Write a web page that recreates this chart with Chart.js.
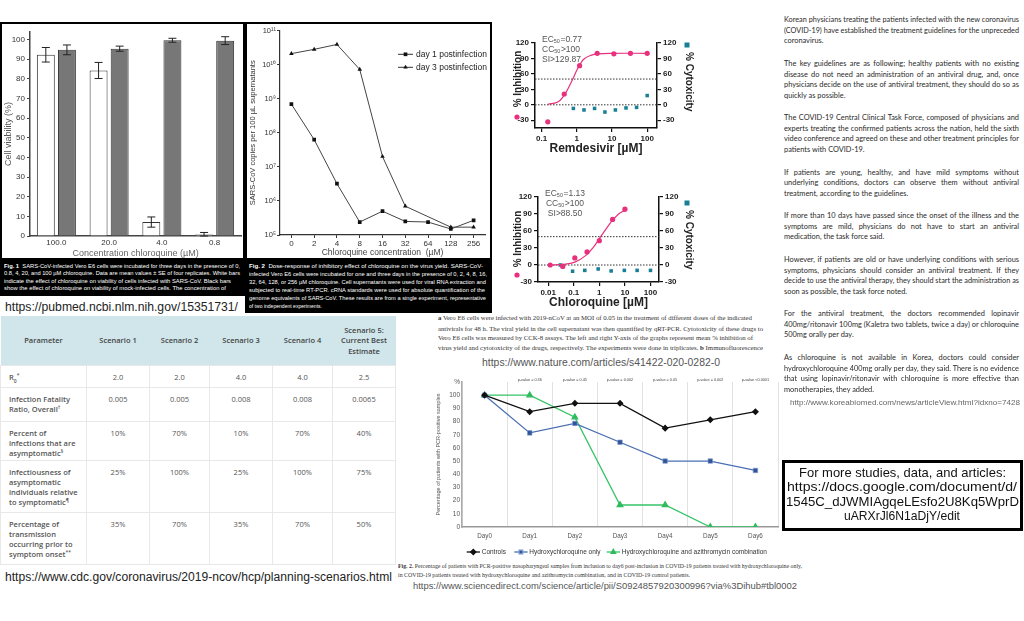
<!DOCTYPE html>
<html>
<head>
<meta charset="utf-8">
<script src="https://cdn.jsdelivr.net/npm/chart.js@4.4.1/dist/chart.umd.min.js"></script>
<style>
body{margin:0;width:1024px;height:621px;position:relative;overflow:hidden;background:#fff;font-family:'Liberation Sans',Arial,sans-serif;}
.box{position:absolute;box-sizing:border-box;border:2.5px solid #000;background:#fff;}
.band{position:absolute;background:#000;}
.ln{position:absolute;white-space:nowrap;}
.wrap{position:absolute;}
#cdc{position:absolute;left:0;top:316px;width:395px;border-collapse:collapse;table-layout:fixed;font-family:'Open Sans',sans-serif;font-size:7.5px;color:#555;}
#cdc th{background:#d0e6eb;font-weight:600;color:#444;height:49px;padding:0;text-align:center;vertical-align:middle;line-height:10.5px;font-size:7.5px;}
#cdc td{border:1px solid #e8e8e8;vertical-align:top;padding:6px 0 0 0;line-height:10px;text-align:center;white-space:nowrap;font-size:7.5px;}
#cdc td.p{text-align:left;padding-left:8px;font-weight:600;}
#cdc sup{font-size:5px;line-height:0;}
#cdc sub{font-size:5px;line-height:0;}
#linkbox{position:absolute;left:782px;top:460px;width:241px;height:71px;box-sizing:border-box;border:3px solid #000;}
</style>
</head>
<body>
<div class="box" style="left:0;top:22px;width:245px;height:274px;"></div>
<div class="band" style="left:0;top:258px;width:245px;height:38px;"></div>
<div class="box" style="left:245px;top:22px;width:247px;height:291px;"></div>
<div class="band" style="left:245px;top:258px;width:247px;height:55px;"></div>
<div class="wrap" style="left:3px;top:25px;width:239px;height:235px;"><canvas id="fig1" width="239" height="235"></canvas></div>
<div class="wrap" style="left:248px;top:25px;width:241px;height:233px;"><canvas id="fig2" width="241" height="233"></canvas></div>
<div class="wrap" style="left:492px;top:24px;width:205px;height:134px;"><canvas id="rem" width="205" height="134"></canvas></div>
<div class="wrap" style="left:492px;top:182px;width:205px;height:130px;"><canvas id="cq" width="205" height="130"></canvas></div>
<div class="wrap" style="left:420px;top:372px;width:380px;height:188px;"><canvas id="pcr" width="380" height="188"></canvas></div>
<div id="linkbox"></div>
<script>
// ---- Fig 1: cell viability bars
const fig1Concentrations = ['100.0', '20.0', '4.0', '0.8'];
const fig1Infected = [92.3, 84.3, 7.1, 0.8];
const fig1InfectedSE = [3.7, 4.1, 2.6, 1.0];
const fig1Mock = [94.8, 95.4, 99.7, 99.5];
const fig1MockSE = [2.5, 1.3, 1.0, 2.0];
const fig1YTicks = [0, 10, 20, 30, 40, 50, 60, 70, 80, 90, 100];

// ---- Fig 2: virus yield (log)
const fig2Concentrations = ['0', '2', '4', '8', '16', '32', '64', '128', '256'];
const fig2Day1 = [6.9e8, 6.3e7, 3.2e6, 2.4e5, 5.0e5, 2.5e5, 2.4e5, 1.5e5, 2.7e5];
const fig2Day3 = [2.1e10, 2.8e10, 3.9e10, 7.2e9, 2.0e7, 7.0e5, null, 1.7e5, 1.7e5];
const fig2YTicks = [1e5, 1e6, 1e7, 1e8, 1e9, 1e10, 1e11];

// ---- Remdesivir
const remInhibConc = [0.15, 0.44, 1.2, 3.8, 11.3, 33.5, 100];
const remInhib = [-33, 21, 76, 100, 99, 100, 100];
const remCytoConc = [0.8, 1.6, 3.2, 6.3, 12.5, 25, 50, 100];
const remCyto = [-7, -10, -7, -14, -10, -6, -5, 18];
const remFitConc = [0.15, 0.3, 0.44, 0.6, 0.77, 1.0, 1.2, 1.6, 2.5, 4, 10, 100];
const remFit = [1, 6, 19, 35, 50, 67, 77, 89, 96, 99, 100, 100];
const remStats = [['EC', '50', '=0.77'], ['CC', '50', '>100'], ['SI', '', '>129.87']];

// ---- Chloroquine
const cqInhibConc = [0.012, 0.037, 0.11, 0.33, 1, 3.3, 10];
const cqInhib = [0, -2.5, 12.5, 23, 43, 80.5, 98.5];
const cqCytoConc = [0.03, 0.09, 0.27, 0.9, 2.9, 9.5, 30, 100];
const cqCyto = [0, -11, -9.5, -7, -10.5, -9.5, -9.5, -9.5];
const cqFitConc = [0.012, 0.037, 0.11, 0.3, 0.6, 1.13, 2, 3.3, 6, 10];
const cqFit = [0, 1, 5, 17, 32, 50, 66, 79, 91, 96];
const cqStats = [['EC', '50', '=1.13'], ['CC', '50', '>100'], ['SI', '', '>88.50']];

const doseYTicks = [-30, 0, 30, 60, 90, 120];
const remXTicks = [0.1, 1, 10, 100];
const cqXTicks = [0.01, 0.1, 1, 10, 100];

// ---- PCR positive patients
const days = ['Day0', 'Day1', 'Day2', 'Day3', 'Day4', 'Day5', 'Day6'];
const controls = [100, 87.5, 93.8, 93.8, 75, 81.3, 87.5];
const hcqOnly = [100, 71.4, 78.6, 64.3, 50, 50, 42.9];
const hcqAzi = [100, 100, 83.3, 16.7, 16.7, 0, 0];
const pValues = ['', 'p-value = 0.36', 'p-value = 0.45', 'p-value = 0.002', 'p-value = 0.05', 'p-value = 0.002', 'p-value <0.0001'];

// ---- CDC planning scenarios table
const tableHeader = ['Parameter', 'Scenario 1', 'Scenario 2', 'Scenario 3', 'Scenario 4', 'Scenario 5:<br>Current Best<br>Estimate'];
const tableParams = [
  'R<sub>0</sub><sup>*</sup>',
  'Infection Fatality<br>Ratio, Overall<sup>†</sup>',
  'Percent of<br>infections that are<br>asymptomatic<sup>§</sup>',
  'Infectiousness of<br>asymptomatic<br>individuals relative<br>to symptomatic<sup>¶</sup>',
  'Percentage of<br>transmission<br>occurring prior to<br>symptom onset<sup>**</sup>'
];
const scenario1 = ['2.0', '0.005', '10%', '25%', '35%'];
const scenario2 = ['2.0', '0.005', '70%', '100%', '70%'];
const scenario3 = ['4.0', '0.008', '10%', '25%', '35%'];
const scenario4 = ['4.0', '0.008', '70%', '100%', '70%'];
const scenario5 = ['2.5', '0.0065', '40%', '75%', '50%'];
const tableRowHeights = [22, 34, 39, 52, 52];

const PINK = '#e8307c';
const TEAL = '#177f96';
Chart.defaults.font.family = "'Liberation Sans', Arial, sans-serif";

const SUP = {'0':'⁰','1':'¹','2':'²','3':'³','4':'⁴','5':'⁵','6':'⁶','7':'⁷','8':'⁸','9':'⁹'};
const supText = n => String(n).split('').map(c => SUP[c]).join('');

// error bars on fig 1
const errorBars = {
  id: 'errorBars',
  afterDatasetsDraw(chart) {
    const {ctx, scales: {y}} = chart;
    ctx.save();
    ctx.strokeStyle = '#222';
    ctx.lineWidth = 1;
    chart.data.datasets.forEach((ds, i) => {
      chart.getDatasetMeta(i).data.forEach((bar, j) => {
        const top = y.getPixelForValue(ds.data[j] + ds.errors[j]);
        const bot = y.getPixelForValue(Math.max(0, ds.data[j] - ds.errors[j]));
        const x = bar.x, w = 4;
        ctx.beginPath();
        ctx.moveTo(x, top); ctx.lineTo(x, bot);
        ctx.moveTo(x - w, top); ctx.lineTo(x + w, top);
        ctx.moveTo(x - w, bot); ctx.lineTo(x + w, bot);
        ctx.stroke();
      });
    });
    ctx.restore();
  }
};

new Chart(document.getElementById('fig1'), {
  type: 'bar',
  data: {
    labels: fig1Concentrations,
    datasets: [
      {label: 'SARS-CoV-infected', data: fig1Infected, errors: fig1InfectedSE, backgroundColor: '#fff', borderColor: '#333', borderWidth: 1},
      {label: 'mock-infected', data: fig1Mock, errors: fig1MockSE, backgroundColor: '#777', borderColor: '#333', borderWidth: 1}
    ]
  },
  options: {
    responsive: false, animation: false,
    layout: {padding: {left: 0, top: 2, right: 1, bottom: 0}},
    plugins: {legend: {display: false}, tooltip: {enabled: false}},
    datasets: {bar: {categoryPercentage: 0.8, barPercentage: 0.85}},
    scales: {
      x: {
        grid: {display: false, drawTicks: false}, border: {color: '#444', width: 1.5},
        ticks: {color: '#333', font: {size: 8}, padding: 2},
        title: {display: true, text: 'Concentration chloroquine (µM)', color: '#666', font: {size: 9}, padding: {top: 0, bottom: 1}},
        afterFit: s => { s.height = 24; }
      },
      y: {
        min: 0, max: 104,
        afterBuildTicks: s => { s.ticks = fig1YTicks.map(v => ({value: v})); },
        grid: {drawOnChartArea: false, tickLength: 3, color: '#444'},
        border: {color: '#444', width: 1.5},
        ticks: {color: '#333', font: {size: 8}, padding: 2},
        title: {display: true, text: 'Cell viability (%)', color: '#555', font: {size: 9}, padding: 0},
        afterFit: s => { s.width = 27; }
      }
    }
  },
  plugins: [errorBars]
});

// legend inside fig 2
const fig2Legend = {
  id: 'fig2Legend',
  afterDraw(chart) {
    const ctx = chart.ctx;
    const items = [['day 1 postinfection', 'rect', 29.3], ['day 3 postinfection', 'triangle', 42.3]];
    ctx.save();
    items.forEach(([txt, style, y]) => {
      ctx.strokeStyle = '#333'; ctx.lineWidth = 1;
      ctx.beginPath(); ctx.moveTo(150, y); ctx.lineTo(165, y); ctx.stroke();
      ctx.fillStyle = '#111';
      Chart.helpers.drawPoint(ctx, {pointStyle: style, radius: 2.6, borderWidth: 0}, 157.5, y);
      ctx.fillStyle = '#222'; ctx.font = "8.5px 'Liberation Sans', Arial";
      ctx.textBaseline = 'middle';
      ctx.fillText(txt, 168, y);
    });
    ctx.restore();
  }
};

new Chart(document.getElementById('fig2'), {
  type: 'line',
  data: {
    labels: fig2Concentrations,
    datasets: [
      {label: 'day 1 postinfection', data: fig2Day1, borderColor: '#444', backgroundColor: '#111', pointBackgroundColor: '#111', pointBorderWidth: 0, pointStyle: 'rect', pointRadius: 2.6, borderWidth: 1, spanGaps: true},
      {label: 'day 3 postinfection', data: fig2Day3, borderColor: '#444', backgroundColor: '#111', pointBackgroundColor: '#111', pointBorderWidth: 0, pointStyle: 'triangle', pointRadius: 2.6, borderWidth: 1, spanGaps: true}
    ]
  },
  options: {
    responsive: false, animation: false,
    layout: {padding: {left: 0, top: 4, right: 4, bottom: 0}},
    plugins: {legend: {display: false}, tooltip: {enabled: false}},
    scales: {
      x: {
        offset: true,
        grid: {drawOnChartArea: false, offset: false, tickLength: 3, color: '#333'},
        border: {color: '#333', width: 1.2},
        ticks: {color: '#333', font: {size: 8}, padding: 1, autoSkip: false, maxRotation: 0},
        title: {display: true, text: 'Chloroquine concentration  (µM)', color: '#444', font: {size: 8.5}, padding: 0},
        afterFit: s => { s.height = 23; }
      },
      y: {
        type: 'logarithmic', min: 1e5, max: 1e11,
        afterBuildTicks: s => { s.ticks = fig2YTicks.map(v => ({value: v})); },
        grid: {drawOnChartArea: false, tickLength: 3, color: '#333'},
        border: {color: '#333', width: 1.2},
        ticks: {color: '#333', font: {size: 7.5}, padding: 1, callback: v => '10' + supText(Math.round(Math.log10(v)))},
        title: {display: true, text: 'SARS-CoV copies per 100 µL supernatants', color: '#333', font: {size: 7.5}, padding: 0},
        afterFit: s => { s.width = 32; }
      }
    }
  },
  plugins: [fig2Legend]
});

// dotted reference lines, EC50 notes and side titles for the dose-response panels
const doseExtras = {
  id: 'doseExtras',
  beforeDatasetsDraw(chart) {
    const {ctx, chartArea: a, scales: {y}} = chart;
    ctx.save();
    ctx.strokeStyle = '#333'; ctx.lineWidth = 1; ctx.setLineDash([1.5, 1.5]);
    [50, 0].forEach(v => {
      const py = y.getPixelForValue(v);
      ctx.beginPath(); ctx.moveTo(a.left, py); ctx.lineTo(a.right, py); ctx.stroke();
    });
    ctx.restore();
  },
  afterDraw(chart, args, o) {
    const ctx = chart.ctx;
    ctx.save();
    ctx.fillStyle = '#555';
    ctx.textBaseline = 'middle';
    o.stats.forEach((parts, i) => {
      const y = o.statsY + i * 10;
      ctx.font = "8.5px 'Liberation Sans', Arial";
      const w1 = ctx.measureText(parts[0]).width, w3 = ctx.measureText(parts[2]).width;
      ctx.font = "5.5px 'Liberation Sans', Arial";
      const w2 = parts[1] ? ctx.measureText(parts[1]).width + 0.5 : 0;
      let x = o.statsAlign === 'center' ? o.statsX - (w1 + w2 + w3) / 2 : o.statsX;
      ctx.font = "8.5px 'Liberation Sans', Arial";
      ctx.fillText(parts[0], x, y);
      ctx.font = "5.5px 'Liberation Sans', Arial";
      ctx.fillText(parts[1], x + w1, y + 2.5);
      ctx.font = "8.5px 'Liberation Sans', Arial";
      ctx.fillText(parts[2], x + w1 + w2, y);
    });
    // left title with dot symbol
    ctx.fillStyle = '#222';
    ctx.font = "bold 10px 'Liberation Sans', Arial";
    ctx.save();
    ctx.translate(26, o.leftTitleY);
    ctx.rotate(-Math.PI / 2);
    ctx.textAlign = 'center';
    ctx.fillText('% Inhibition', 0, 0);
    ctx.restore();
    ctx.fillStyle = PINK;
    ctx.beginPath(); ctx.arc(25, 93, 2.6, 0, Math.PI * 2); ctx.fill();
    // right title with square symbol
    ctx.fillStyle = TEAL;
    ctx.fillRect(192.5, 18.5, 5, 5);
    ctx.fillStyle = '#222';
    ctx.save();
    ctx.translate(197, 28);
    ctx.rotate(Math.PI / 2);
    ctx.textAlign = 'left';
    ctx.fillText('% Cytoxicity', 0, 0);
    ctx.restore();
    ctx.restore();
  }
};

function doseChart(id, o) {
  const axisY = (pos, width) => ({
    position: pos, min: o.yMin, max: 120,
    afterBuildTicks: s => { s.ticks = doseYTicks.map(v => ({value: v})); },
    grid: {drawOnChartArea: false, tickLength: 4, color: '#111', lineWidth: 1.2},
    border: {color: '#111', width: 1.5},
    ticks: {color: '#222', font: {size: 8, weight: 'bold'}, padding: 2},
    afterFit: s => { s.width = width; }
  });
  return new Chart(document.getElementById(id), {
    type: 'scatter',
    data: {
      datasets: [
        {data: o.fitX.map((x, i) => ({x, y: o.fitY[i]})), showLine: true, borderColor: PINK, borderWidth: 1.2, pointRadius: 0, tension: 0.4, yAxisID: 'y'},
        {data: o.inhX.map((x, i) => ({x, y: o.inhY[i]})), pointStyle: 'circle', pointRadius: 2.6, backgroundColor: PINK, borderWidth: 0, yAxisID: 'y'},
        {data: o.cytX.map((x, i) => ({x, y: o.cytY[i]})), pointStyle: 'rect', pointRadius: 2.5, backgroundColor: TEAL, borderWidth: 0, yAxisID: 'y2'}
      ]
    },
    options: {
      responsive: false, animation: false,
      layout: {padding: {top: o.padTop, left: 0, right: 0, bottom: 0}},
      plugins: {
        legend: {display: false}, tooltip: {enabled: false},
        doseExtras: {stats: o.stats, statsX: o.statsX, statsY: o.statsY, statsAlign: o.statsAlign, leftTitleY: o.leftTitleY}
      },
      scales: {
        x: {
          type: 'logarithmic', min: o.xMin, max: o.xMax,
          afterBuildTicks: s => { s.ticks = o.xTicks.map(v => ({value: v})); },
          grid: {drawOnChartArea: false, tickLength: 4, color: '#111', lineWidth: 1.2},
          border: {color: '#111', width: 1.5},
          ticks: {color: '#222', font: {size: 8, weight: 'bold'}, padding: 2, maxRotation: 0, autoSkip: false, callback: v => String(v)},
          title: {display: true, text: o.xTitle, color: '#222', font: {size: 12, weight: 'bold'}, padding: {top: 0, bottom: 2.5}},
          afterFit: s => { s.height = 30; }
        },
        y: axisY('left', o.leftW),
        y2: axisY('right', o.rightW)
      }
    },
    plugins: [doseExtras]
  });
}

doseChart('rem', {
  fitX: remFitConc, fitY: remFit, inhX: remInhibConc, inhY: remInhib, cytX: remCytoConc, cytY: remCyto,
  xMin: 0.065, xMax: 190, xTicks: remXTicks, yMin: -45, xTitle: 'Remdesivir [µM]',
  padTop: 19, leftW: 43, rightW: 40,
  stats: remStats, statsX: 50, statsY: 15.3, statsAlign: 'left', leftTitleY: 55
});
doseChart('cq', {
  fitX: cqFitConc, fitY: cqFit, inhX: cqInhibConc, inhY: cqInhib, cytX: cqCytoConc, cytY: cqCyto,
  xMin: 0.004, xMax: 215, xTicks: cqXTicks, yMin: -30, xTitle: 'Chloroquine [µM]',
  padTop: 15, leftW: 46, rightW: 38,
  stats: cqStats, statsX: 73, statsY: 11.3, statsAlign: 'center', leftTitleY: 57
});

// p-values and legend for the PCR chart
const pcrExtras = {
  id: 'pcrExtras',
  afterDraw(chart) {
    const {ctx, chartArea: a, scales: {x}} = chart;
    ctx.save();
    ctx.fillStyle = '#444';
    ctx.font = "3.8px 'Liberation Sans', Arial";
    ctx.textAlign = 'center'; ctx.textBaseline = 'bottom';
    pValues.forEach((p, i) => { if (p) ctx.fillText(p, x.getPixelForValue(i), a.top - 0.5); });
    const items = [[0, 46.7], [1, 94.3], [2, 186.7]];
    ctx.textAlign = 'left'; ctx.textBaseline = 'middle';
    ctx.font = "6.5px 'Liberation Sans', Arial";
    items.forEach(([i, lx]) => {
      const ds = chart.data.datasets[i];
      ctx.strokeStyle = ds.borderColor; ctx.lineWidth = 1.3;
      ctx.beginPath(); ctx.moveTo(lx, 180); ctx.lineTo(lx + 13.3, 180); ctx.stroke();
      ctx.fillStyle = ds.backgroundColor; ctx.strokeStyle = ds.pointBorderColor;
      Chart.helpers.drawPoint(ctx, {pointStyle: ds.pointStyle, radius: 2.6, borderWidth: 0.6}, lx + 6.6, 180);
      ctx.fillStyle = '#333';
      ctx.fillText(ds.label, lx + 15, 180);
    });
    ctx.restore();
  }
};

new Chart(document.getElementById('pcr'), {
  type: 'line',
  data: {
    labels: days,
    datasets: [
      {label: 'Controls', data: controls, borderColor: '#111', backgroundColor: '#111', pointBorderColor: '#111', pointStyle: 'rectRot', pointRadius: 2.6, borderWidth: 1.3},
      {label: 'Hydroxychloroquine only', data: hcqOnly, borderColor: '#4a6fb3', backgroundColor: '#2f5597', pointBorderColor: '#7f9bd0', pointBorderWidth: 0.6, pointStyle: 'rect', pointRadius: 3.2, borderWidth: 1.3},
      {label: 'Hydroxychloroquine and azithromycin combination', data: hcqAzi, borderColor: '#35c466', backgroundColor: '#2fbb5e', pointBorderColor: '#2fbb5e', pointStyle: 'triangle', pointRadius: 3.2, borderWidth: 1.3}
    ]
  },
  options: {
    responsive: false, animation: false,
    layout: {padding: {left: 12, top: 10, right: 22, bottom: 0}},
    plugins: {legend: {display: false}, tooltip: {enabled: false}},
    scales: {
      x: {
        offset: true,
        grid: {offset: true, color: '#e2e2e2', drawTicks: false},
        border: {color: '#999', width: 1.5},
        ticks: {color: '#555', font: {size: 6.3}, padding: 5},
        afterFit: s => { s.height = 33; }
      },
      y: {
        min: 0, max: 110,
        ticks: {stepSize: 10, color: '#555', font: {size: 6.5}, padding: 2, callback: v => v === 110 ? '%' : v},
        grid: {display: false, drawTicks: false},
        border: {color: '#aaa', width: 1.5},
        title: {display: true, text: 'Percentage of patients with PCR-positive samples', color: '#555', font: {size: 5.5}, padding: {top: 3, bottom: 0}},
        afterFit: s => { s.width = 30; }
      }
    }
  },
  plugins: [pcrExtras]
});

// ---- table
const table = document.createElement('table');
table.id = 'cdc';
const cols = [86, 63, 60, 63, 60, 63];
table.innerHTML = '<colgroup>' + cols.map(w => '<col style="width:' + w + 'px">').join('') + '</colgroup>' +
  '<tr>' + tableHeader.map(h => '<th>' + h + '</th>').join('') + '</tr>' +
  tableParams.map((p, i) => '<tr style="height:' + tableRowHeights[i] + 'px"><td class="p">' + p + '</td>' +
    [scenario1, scenario2, scenario3, scenario4, scenario5].map(s => '<td>' + s[i] + '</td>').join('') + '</tr>').join('');
document.body.appendChild(table);

// ---- text helpers
function addLine(html, o) {
  const el = document.createElement('div');
  el.className = 'ln';
  el.innerHTML = html;
  el.style.left = o.x + 'px';
  el.style.fontSize = o.size + 'px';
  el.style.lineHeight = (o.size * 1.2) + 'px';
  el.style.top = (o.cy - o.size * 0.6) + 'px';
  el.style.color = o.color || '#222';
  if (o.font) el.style.fontFamily = o.font;
  document.body.appendChild(el);
  const nat = el.getBoundingClientRect().width;
  if (o.mode === 'justify' && nat < o.width) {
    const gaps = (el.textContent.match(/ /g) || []).length;
    if (gaps) el.style.wordSpacing = ((o.width - nat) / gaps) + 'px';
  } else if (o.mode === 'scale' || nat > o.width) {
    el.style.transformOrigin = '0 0';
    el.style.transform = 'scaleX(' + (o.width / nat) + ')';
  }
  if (o.center !== undefined) el.style.left = (o.center - o.width / 2) + 'px';
  return el;
}

const fig1Caption = [
  '<b>Fig. 1</b>&nbsp; SARS-CoV-infected Vero E6 cells were incubated for three days in the presence of 0,',
  '0.8, 4, 20, and 100 µM chloroquine. Data are mean values ± SE of four replicates. White bars',
  'indicate the effect of chloroquine on viability of cells infected with SARS-CoV. Black bars',
  'show the effect of chloroquine on viability of mock-infected cells. The concentration of'
];
const fig1CapW = [236, 236, 227, 222];
fig1Caption.forEach((t, i) => addLine(t, {x: 4, cy: 266 + i * 7.5, size: 5.2, color: '#fff', width: fig1CapW[i], mode: 'scale'}));

const fig2Caption = [
  '<b>Fig. 2</b>&nbsp; Dose-response of inhibitory effect of chloroquine on the virus yield. SARS-CoV-',
  'infected Vero E6 cells were incubated for one and three days in the presence of 0, 2, 4, 8, 16,',
  '32, 64, 128, or 256 µM chloroquine. Cell supernatants were used for viral RNA extraction and',
  'subjected to real-time RT-PCR. cRNA standards were used for absolute quantification of the',
  'genome equivalents of SARS-CoV. These results are from a single experiment, representative',
  'of two independent experiments.'
];
const fig2CapW = [234, 238, 237, 236, 237, 73];
fig2Caption.forEach((t, i) => addLine(t, {x: 249, cy: 266 + i * 8, size: 5.2, color: '#fff', width: fig2CapW[i], mode: 'scale'}));

addLine('https://pubmed.ncbi.nlm.nih.gov/15351731/', {x: 5, cy: 307, size: 12, color: '#222', width: 233, mode: 'scale'});
addLine('https://www.cdc.gov/coronavirus/2019-ncov/hcp/planning-scenarios.html', {x: 5, cy: 577, size: 12, color: '#222', width: 387, mode: 'scale'});

const natureCaption = [
  '<b>a</b> Vero E6 cells were infected with 2019-nCoV at an MOI of 0.05 in the treatment of different doses of the indicated',
  'antivirals for 48 h. The viral yield in the cell supernatant was then quantified by qRT-PCR. Cytotoxicity of these drugs to',
  'Vero E6 cells was measured by CCK-8 assays. The left and right Y-axis of the graphs represent mean % inhibition of',
  'virus yield and cytotoxicity of the drugs, respectively. The experiments were done in triplicates. <b>b</b> Immunofluorescence'
];
const natureCapW = [314, 325, 315, 325];
const natureCapY = [318.3, 328.5, 338.3, 348.3];
natureCaption.forEach((t, i) => addLine(t, {x: 438, cy: natureCapY[i], size: 6.5, color: '#333', font: "'Liberation Serif', serif", width: natureCapW[i], mode: 'scale'}));
addLine('https://www.nature.com/articles/s41422-020-0282-0', {x: 482, cy: 363, size: 10, color: '#555', width: 238, mode: 'scale'});

const sdCaption = [
  '<b>Fig. 2.</b> Percentage of patients with PCR-positive nasopharyngeal samples from inclusion to day6 post-inclusion in COVID-19 patients treated with hydroxychloroquine only,',
  'in COVID-19 patients treated with hydroxychloroquine and azithromycin combination, and in COVID-19 control patients.'
];
const sdCapW = [404, 292];
sdCaption.forEach((t, i) => addLine(t, {x: 398, cy: 566.5 + i * 8.5, size: 5.3, color: '#333', font: "'Liberation Serif', serif", width: sdCapW[i], mode: 'scale'}));
addLine('https://www.sciencedirect.com/science/article/pii/S0924857920300996?via%3Dihub#tbl0002', {x: 413, cy: 586.5, size: 9, color: '#555', width: 384, mode: 'scale'});

// ---- article column
const koreaParagraphs = [
  ['Korean physicians treating the patients infected with the new coronavirus',
   '(COVID-19) have established the treatment guidelines for the unpreceded',
   'coronavirus.'],
  ['The key guidelines are as following; healthy patients with no existing',
   'disease do not need an administration of an antiviral drug, and, once',
   'physicians decide on the use of antiviral treatment, they should do so as',
   'quickly as possible.'],
  ['The COVID-19 Central Clinical Task Force, composed of physicians and',
   'experts treating the confirmed patients across the nation, held the sixth',
   'video conference and agreed on these and other treatment principles for',
   'patients with COVID-19.'],
  ['If patients are young, healthy, and have mild symptoms without',
   'underlying conditions, doctors can observe them without antiviral',
   'treatment, according to the guidelines.'],
  ['If more than 10 days have passed since the onset of the illness and the',
   'symptoms are mild, physicians do not have to start an antiviral',
   'medication, the task force said.'],
  ['However, if patients are old or have underlying conditions with serious',
   'symptoms, physicians should consider an antiviral treatment. If they',
   'decide to use the antiviral therapy, they should start the administration as',
   'soon as possible, the task force noted.'],
  ['For the antiviral treatment, the doctors recommended lopinavir',
   '400mg/ritonavir 100mg (Kaletra two tablets, twice a day) or chloroquine',
   '500mg orally per day.'],
  ['As chloroquine is not available in Korea, doctors could consider',
   'hydroxychloroquine 400mg orally per day, they said. There is no evidence',
   'that using lopinavir/ritonavir with chloroquine is more effective than',
   'monotherapies, they added.']
];
let cy = 20.7;
koreaParagraphs.forEach((para, pi) => {
  if (pi > 0) cy += 22.5 - 10.6;
  para.forEach((line, li) => {
    const last = li === para.length - 1;
    addLine(line, {x: 784, cy, size: 7.4, color: '#2a2a2a', font: "Lato, sans-serif", width: 235, mode: last ? 'max' : 'justify'});
    cy += 10.6;
  });
});
addLine('http://www.koreabiomed.com/news/articleView.html?idxno=7428', {x: 790, cy: 403, size: 8, color: '#666', width: 230, mode: 'scale'});

const boxLines = ['For more studies, data, and articles:', 'https://docs.google.com/document/d/', '1545C_dJWMIAgqeLEsfo2U8Kq5WprD', 'uARXrJl6N1aDjY/edit'];
const boxW = [207, 230, 233, 116];
boxLines.forEach((t, i) => addLine(t, {x: 0, center: 902, cy: 473 + i * 14.5, size: 13.5, color: '#111', width: boxW[i], mode: 'scale'}));
</script>
</body>
</html>
